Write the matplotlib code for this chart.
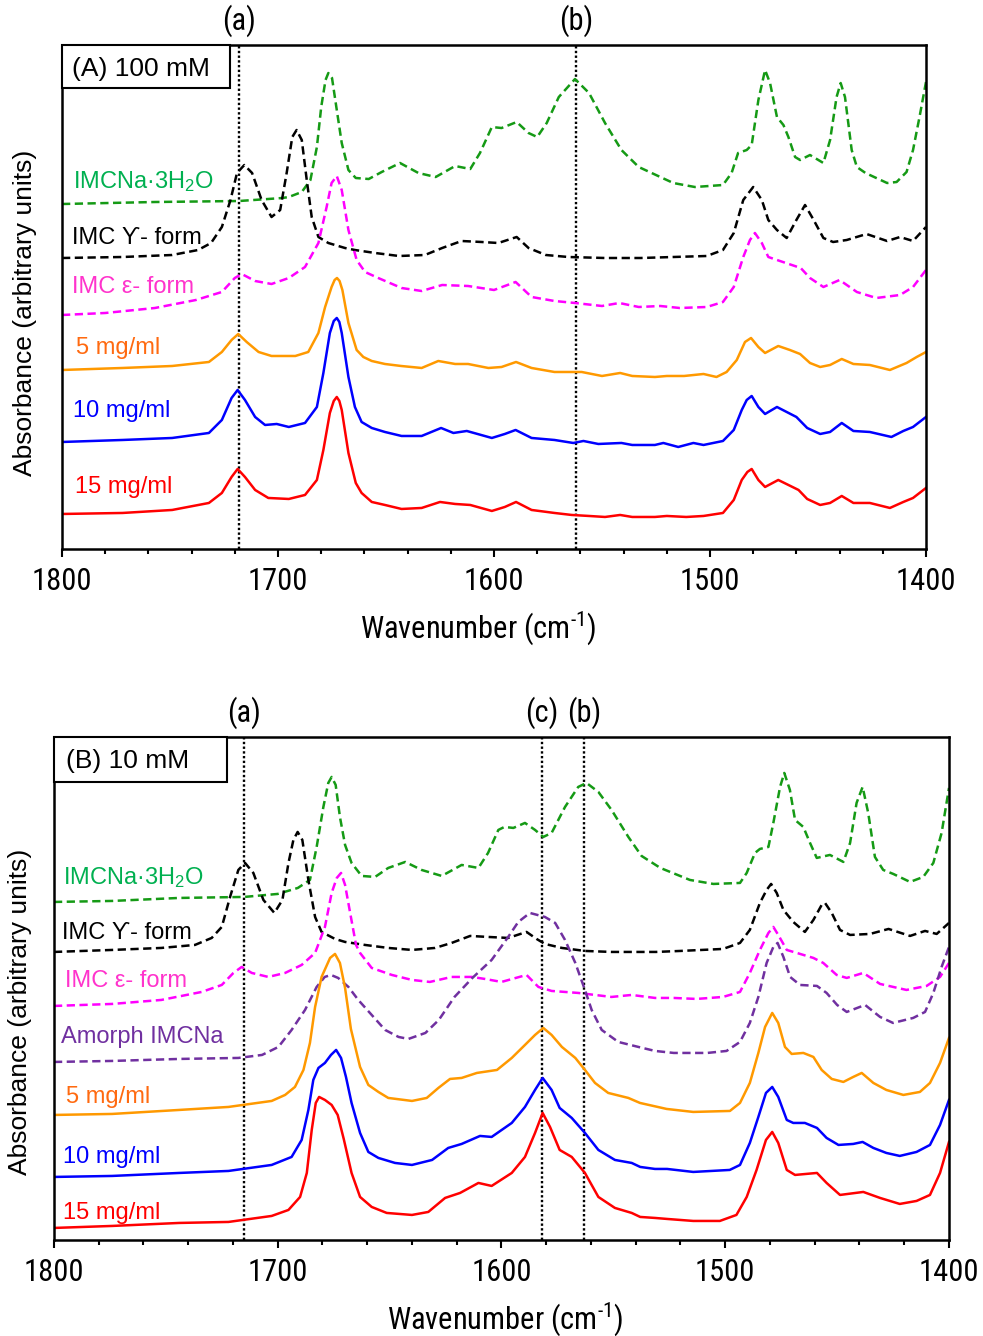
import matplotlib
matplotlib.use("Agg")
import matplotlib.pyplot as plt
from matplotlib import font_manager
from matplotlib.patches import Rectangle

# --- fonts -------------------------------------------------------------
# the axis numbers and wavenumber label use a narrow face in the original
installed = {f.name for f in font_manager.fontManager.ttflist}
NARROW_CHOICES = ["Liberation Sans Narrow", "Arial Narrow", "Roboto Condensed",
                  "Open Sans Condensed", "DejaVu Sans Condensed"]
NARROW = next((n for n in NARROW_CHOICES if n in installed), "Liberation Sans")
NARROW_SIZE = 22 if NARROW != "Liberation Sans" else 18.5
REGULAR = ["Liberation Sans", "DejaVu Sans"]

plt.rcParams["font.family"] = REGULAR
plt.rcParams["mathtext.fontset"] = "custom"
plt.rcParams["mathtext.rm"] = "Liberation Sans"
plt.rcParams["mathtext.default"] = "regular"

# --- data: (wavenumber cm-1, absorbance a.u., offset spectra) ------------
# (A) 100 mM
A_HYDRATE = [(1800, 3.45), (1757, 3.47), (1718, 3.48), (1698, 3.51), (1695, 3.52), (1689, 3.57),
             (1685, 3.69), (1682, 4.02), (1680, 4.42), (1678, 4.69), (1676.7, 4.76), (1675, 4.71),
             (1673, 4.42), (1670.5, 4.06), (1667.4, 3.79), (1664, 3.71), (1658, 3.70), (1652, 3.77),
             (1643.5, 3.86), (1635, 3.76), (1627, 3.72), (1618, 3.83), (1611, 3.80), (1606.5, 3.96),
             (1601, 4.22), (1596.5, 4.21), (1589.5, 4.27), (1584, 4.16), (1580, 4.12), (1575.6, 4.26),
             (1570, 4.52), (1562.5, 4.70), (1556, 4.56), (1548.6, 4.26), (1541, 3.99), (1533, 3.82),
             (1525, 3.74), (1517, 3.66), (1507, 3.62), (1494, 3.64), (1490, 3.76), (1487, 3.96),
             (1483, 3.99), (1480.7, 4.04), (1477.6, 4.49), (1474.5, 4.79), (1472.2, 4.66), (1469, 4.32),
             (1466, 4.24), (1463.7, 4.12), (1460.6, 3.92), (1458.3, 3.89), (1453.7, 3.94), (1447.5, 3.86),
             (1444.4, 4.09), (1441.4, 4.52), (1439.5, 4.66), (1437.5, 4.52), (1434.4, 3.99), (1432, 3.82),
             (1428, 3.76), (1418, 3.66), (1413.6, 3.67), (1409, 3.77), (1406, 3.99), (1403, 4.32),
             (1400, 4.67)]
A_GAMMA = [(1800, 2.91), (1772, 2.92), (1749, 2.94), (1737, 2.99), (1731, 3.06), (1726, 3.22),
           (1722, 3.49), (1719, 3.76), (1715.6, 3.84), (1712, 3.76), (1707.6, 3.49), (1703, 3.32),
           (1699, 3.39), (1696, 3.76), (1693.4, 4.12), (1691.4, 4.19), (1689, 4.09), (1686.7, 3.69),
           (1684.4, 3.32), (1681.3, 3.12), (1676.7, 3.06), (1669, 3.01), (1664.4, 2.99), (1655, 2.96),
           (1644, 2.93), (1632, 2.94), (1624, 3.01), (1615, 3.08), (1605.7, 3.07), (1598, 3.06),
           (1589.5, 3.12), (1584, 3.01), (1576, 2.94), (1565.6, 2.92), (1548.6, 2.91), (1532, 2.91),
           (1517, 2.92), (1501.5, 2.93), (1494, 2.99), (1489, 3.16), (1484.6, 3.49), (1480, 3.62),
           (1476, 3.49), (1473, 3.29), (1469, 3.19), (1464.5, 3.11), (1460, 3.29), (1456, 3.44),
           (1452, 3.29), (1447.5, 3.11), (1443, 3.07), (1436.7, 3.09), (1427.5, 3.15), (1418, 3.08),
           (1412, 3.12), (1406, 3.08), (1400, 3.22)]
A_EPSILON = [(1800, 2.34), (1780, 2.36), (1757, 2.41), (1738, 2.49), (1726, 2.57), (1720, 2.71),
             (1716.8, 2.75), (1710.6, 2.68), (1703, 2.65), (1695, 2.71), (1687.5, 2.82), (1681.3, 3.06),
             (1677.5, 3.42), (1675.2, 3.66), (1672.8, 3.73), (1670.5, 3.59), (1667.4, 3.19),
             (1663.6, 2.89), (1659.7, 2.77), (1653.6, 2.71), (1642.8, 2.61), (1633.5, 2.58), (1624, 2.64),
             (1612, 2.63), (1600, 2.59), (1590, 2.67), (1582.6, 2.52), (1572, 2.48), (1562.5, 2.46),
             (1550, 2.43), (1542, 2.46), (1533, 2.42), (1523, 2.43), (1514, 2.41), (1501.5, 2.42),
             (1494, 2.47), (1489, 2.62), (1484.6, 2.92), (1481.5, 3.09), (1479.2, 3.16), (1476, 3.06),
             (1473, 2.92), (1467.6, 2.88), (1458, 2.81), (1453.7, 2.71), (1447.5, 2.62), (1440, 2.69),
             (1432, 2.57), (1423, 2.51), (1412, 2.54), (1406, 2.62), (1400, 2.79)]
A_5MG = [(1800, 1.79), (1772, 1.81), (1749, 1.83), (1732, 1.87), (1726, 1.97), (1721.5, 2.09),
         (1718.4, 2.15), (1714.5, 2.07), (1709, 1.97), (1703, 1.93), (1692, 1.93), (1686, 1.97),
         (1681.3, 2.16), (1678.2, 2.42), (1675.2, 2.62), (1673.8, 2.69), (1672.7, 2.71), (1671.5, 2.68),
         (1670.2, 2.59), (1667.4, 2.26),
         (1663.6, 1.99), (1660.5, 1.92), (1656.6, 1.88), (1650.5, 1.85), (1643, 1.83), (1633.5, 1.81),
         (1625.8, 1.88), (1618, 1.85), (1612, 1.85), (1602.6, 1.81), (1596.5, 1.82), (1589.8, 1.87),
         (1582.6, 1.81), (1572, 1.77), (1559.4, 1.77), (1550, 1.73), (1541.6, 1.76), (1536, 1.73),
         (1525.5, 1.72), (1520, 1.73), (1512, 1.73), (1503, 1.75), (1497, 1.72), (1492.3, 1.77),
         (1487.6, 1.89), (1483.8, 2.07), (1481, 2.11), (1477.6, 2.02), (1474.5, 1.96), (1468.4, 2.03),
         (1463, 1.99), (1458.3, 1.95), (1453.7, 1.86), (1449, 1.82), (1444.4, 1.84), (1439, 1.90),
         (1433.6, 1.85), (1426, 1.84), (1416.7, 1.79), (1409, 1.86), (1404.3, 1.92), (1400, 1.97)]
A_10MG = [(1800, 1.07), (1772, 1.09), (1749, 1.11), (1732, 1.16), (1726, 1.29), (1721.5, 1.51),
          (1718.7, 1.59), (1715.3, 1.49), (1710.6, 1.32), (1706, 1.24), (1700.6, 1.25), (1695, 1.22),
          (1687.5, 1.26), (1682, 1.42), (1679, 1.76), (1676, 2.16), (1674.2, 2.28), (1672.8, 2.31),
          (1671.6, 2.27), (1670.5, 2.16),
          (1667.4, 1.72), (1664.4, 1.42), (1661.3, 1.27), (1656.6, 1.21), (1650.5, 1.17), (1642.8, 1.13),
          (1633.5, 1.13), (1624.5, 1.21), (1618.8, 1.16), (1612.6, 1.18), (1601, 1.11), (1595, 1.15),
          (1590, 1.19), (1582.6, 1.11), (1572, 1.09), (1563.3, 1.06), (1558.6, 1.08), (1551.7, 1.05),
          (1541, 1.06), (1536, 1.04), (1525.5, 1.04), (1521.6, 1.06), (1514.7, 1.02), (1507.7, 1.06),
          (1503, 1.04), (1494, 1.08), (1489, 1.19), (1485.3, 1.39), (1483, 1.49), (1480.7, 1.53),
          (1477.6, 1.42), (1474.5, 1.35), (1469, 1.42), (1464.5, 1.37), (1460, 1.32), (1455, 1.21),
          (1449, 1.15), (1444.4, 1.17), (1439, 1.26), (1433.6, 1.18), (1426, 1.17), (1416, 1.12),
          (1410.5, 1.18), (1406, 1.22), (1400, 1.32)]
A_15MG = [(1800, 0.35), (1772, 0.36), (1749, 0.39), (1732, 0.46), (1726, 0.56), (1721.5, 0.72),
          (1718.7, 0.80), (1715.3, 0.72), (1710.6, 0.59), (1704.5, 0.51), (1695, 0.50), (1687.5, 0.54),
          (1682, 0.69), (1679, 0.99), (1676, 1.36), (1674.2, 1.48), (1672.8, 1.52), (1671.6, 1.48),
          (1670.5, 1.39), (1667.4, 0.96),
          (1664, 0.66), (1661.3, 0.56), (1656.6, 0.47), (1650.5, 0.44), (1642.8, 0.40), (1633.5, 0.41),
          (1625, 0.47), (1618, 0.45), (1611, 0.44), (1601, 0.38), (1595, 0.42), (1589.8, 0.47),
          (1582.6, 0.39), (1572, 0.36), (1564, 0.34), (1556, 0.33), (1548.6, 0.32), (1541.6, 0.34),
          (1536, 0.32), (1525.5, 0.32), (1520, 0.33), (1511, 0.32), (1503, 0.33), (1494, 0.36),
          (1489, 0.49), (1485.3, 0.69), (1482.7, 0.77), (1480.7, 0.80), (1477.6, 0.69), (1474.5, 0.62),
          (1468.4, 0.69), (1463.7, 0.64), (1459, 0.59), (1455, 0.50), (1449, 0.44), (1444.4, 0.46),
          (1439, 0.53), (1433.6, 0.46), (1426, 0.46), (1416.7, 0.41), (1410.5, 0.47), (1406, 0.51),
          (1400, 0.61)]

# (B) 10 mM
B_HYDRATE = [(1800, 3.38), (1774, 3.39), (1744, 3.42), (1715, 3.43), (1700, 3.46), (1691, 3.52),
             (1685.6, 3.60), (1682.6, 3.93), (1679.6, 4.33), (1677.4, 4.57), (1675.9, 4.63),
             (1674.1, 4.55), (1672.2, 4.23), (1669.9, 3.95), (1667, 3.77), (1662.5, 3.64), (1656.5, 3.63),
             (1650.6, 3.72), (1643, 3.78), (1635.7, 3.70), (1626.7, 3.64), (1617.8, 3.75), (1610.3, 3.72),
             (1606, 3.87), (1601.4, 4.10), (1598.7, 4.13), (1594.7, 4.12), (1589.5, 4.17), (1585, 4.10),
             (1581.3, 4.03), (1577.6, 4.07), (1571.6, 4.33), (1565.7, 4.53), (1562, 4.57), (1556.7, 4.48),
             (1550.8, 4.30), (1543.3, 4.03), (1537.4, 3.84), (1529, 3.72), (1515.8, 3.60), (1505.3, 3.56),
             (1493.4, 3.57), (1490.4, 3.67), (1486.7, 3.87), (1484.5, 3.91), (1480.7, 3.93),
             (1478.5, 4.17), (1475.5, 4.53), (1473.6, 4.67), (1471.1, 4.50), (1468.8, 4.20),
             (1465.1, 4.13), (1462.1, 3.97), (1459.1, 3.82), (1453.2, 3.85), (1447.2, 3.78),
             (1444.2, 3.97), (1441.3, 4.37), (1438.6, 4.53), (1436.1, 4.27), (1433.1, 3.83),
             (1429.4, 3.70), (1424.9, 3.66), (1417.4, 3.58), (1411.5, 3.63), (1407, 3.77), (1403.3, 4.07),
             (1400, 4.52)]
B_GAMMA = [(1800, 2.88), (1774, 2.90), (1752, 2.92), (1737, 2.95), (1729.5, 3.02), (1725, 3.13),
           (1721.3, 3.43), (1717.6, 3.70), (1714.6, 3.77), (1710.9, 3.67), (1706.4, 3.40), (1701.5, 3.27),
           (1697.9, 3.40), (1695.2, 3.77), (1693, 4.00), (1691.1, 4.08), (1689, 4.00), (1686.3, 3.60),
           (1683.3, 3.23), (1680.4, 3.08), (1674.4, 3.01), (1669.9, 2.98), (1661, 2.95), (1650.6, 2.92),
           (1640, 2.90), (1629.7, 2.92), (1622.3, 2.97), (1614, 3.04), (1606, 3.03), (1597, 3.02),
           (1588.8, 3.08), (1584.3, 3.01), (1580.6, 2.96), (1573, 2.92), (1562.7, 2.89), (1550.8, 2.88),
           (1531, 2.88), (1520, 2.89), (1501, 2.91), (1493.4, 2.97), (1489, 3.10), (1484.5, 3.37),
           (1481.5, 3.50), (1479.5, 3.56), (1477, 3.47), (1474, 3.30), (1469.6, 3.18), (1464.4, 3.08),
           (1460.6, 3.20), (1456.9, 3.35), (1455.4, 3.37), (1452.4, 3.27), (1448.7, 3.10), (1444.2, 3.05),
           (1435.3, 3.06), (1427, 3.11), (1417.4, 3.04), (1410.7, 3.09), (1405.5, 3.06), (1400, 3.17)]
B_EPSILON = [(1800, 2.34), (1774, 2.36), (1752, 2.40), (1734, 2.48), (1725, 2.55), (1719.8, 2.67),
             (1716.1, 2.73), (1711.6, 2.67), (1704.2, 2.63), (1696.7, 2.67), (1689.3, 2.75),
             (1683.3, 2.87), (1678.9, 3.13), (1675.9, 3.47), (1673.6, 3.62), (1671.7, 3.67),
             (1669.9, 3.55), (1667.3, 3.23), (1665, 2.95), (1663.2, 2.87), (1658, 2.72), (1649, 2.65),
             (1640, 2.60), (1632, 2.58), (1622.3, 2.63), (1613.3, 2.63), (1607.4, 2.61), (1600, 2.58),
             (1588.8, 2.65), (1583.5, 2.53), (1577.6, 2.49), (1565.7, 2.47), (1550.8, 2.43),
             (1541.8, 2.45), (1531.4, 2.42), (1523, 2.42), (1512.8, 2.41), (1501, 2.43), (1493.4, 2.48),
             (1489, 2.67), (1484.5, 2.90), (1480.7, 3.07), (1478.5, 3.13), (1476.3, 3.05), (1472.5, 2.90),
             (1468, 2.87), (1460.6, 2.82), (1456.2, 2.77), (1450.2, 2.65), (1445.7, 2.62), (1438.3, 2.67),
             (1430.8, 2.56), (1419, 2.50), (1410, 2.54), (1404, 2.63), (1400, 2.77)]
B_AMORPH = [(1800, 1.78), (1774, 1.79), (1744, 1.81), (1717.6, 1.82), (1707, 1.85), (1699.7, 1.93),
            (1693.8, 2.10), (1687.8, 2.30), (1682.6, 2.53), (1679, 2.63), (1676.2, 2.65), (1673, 2.62),
            (1668.4, 2.53), (1664, 2.40), (1658, 2.25), (1652, 2.10), (1646, 2.03), (1641.6, 2.01),
            (1634, 2.07), (1628, 2.20), (1621, 2.43), (1613, 2.62), (1604.4, 2.80), (1597, 3.03),
            (1592.5, 3.18), (1587.3, 3.27), (1580.6, 3.23), (1576, 3.17), (1571.6, 3.00), (1567, 2.77),
            (1562.7, 2.50), (1559.7, 2.30), (1555.2, 2.10), (1547.8, 1.98), (1538.8, 1.93),
            (1531.4, 1.89), (1523, 1.87), (1508, 1.87), (1499.4, 1.89), (1493.4, 1.98), (1489, 2.17),
            (1485.2, 2.43), (1481.5, 2.77), (1478.5, 2.93), (1476.6, 2.97), (1474, 2.83), (1471, 2.63),
            (1466.6, 2.55), (1459, 2.54), (1454.7, 2.47), (1450, 2.35), (1445.7, 2.28), (1437.5, 2.35),
            (1430.8, 2.23), (1425, 2.17), (1416, 2.22), (1410.7, 2.28), (1407, 2.47), (1403.3, 2.73),
            (1400, 2.93)]
B_5MG = [(1800, 1.25), (1774, 1.26), (1744, 1.30), (1722, 1.33), (1702.7, 1.39), (1696.7, 1.45),
         (1692.3, 1.53), (1688.5, 1.70), (1685.6, 1.97), (1683.3, 2.33), (1680.4, 2.63), (1676.6, 2.82),
         (1674.4, 2.86), (1672.2, 2.77), (1669.9, 2.52), (1667.3, 2.11), (1663.2, 1.73), (1659.5, 1.55),
         (1655, 1.48), (1650.6, 1.42), (1640, 1.39), (1633.4, 1.42), (1628.2, 1.52), (1623, 1.61),
         (1617.8, 1.62), (1611, 1.67), (1602, 1.70), (1595.4, 1.82), (1589.5, 1.95), (1585, 2.05),
         (1581.3, 2.12), (1577.6, 2.05), (1573, 1.93), (1567, 1.82), (1562.7, 1.70), (1558.2, 1.57),
         (1552.3, 1.47), (1543.3, 1.42), (1538.1, 1.37), (1526.2, 1.31), (1514.3, 1.28), (1497.9, 1.29),
         (1493.4, 1.37), (1489, 1.57), (1485.2, 1.87), (1482.2, 2.13), (1479, 2.27), (1476.3, 2.17),
         (1473.3, 1.93), (1470.3, 1.86), (1465.1, 1.87), (1460.6, 1.83), (1456.9, 1.70), (1452.4, 1.61),
         (1447.2, 1.58), (1442.8, 1.63), (1439, 1.67), (1433.8, 1.57), (1428, 1.50), (1420.4, 1.45),
         (1413, 1.48), (1408.5, 1.57), (1404, 1.77), (1400, 2.02)]
B_10MG = [(1800, 0.63), (1774, 0.64), (1744, 0.67), (1722, 0.69), (1702.7, 0.75), (1693.8, 0.83),
          (1689.3, 1.00), (1686.3, 1.30), (1684.1, 1.60), (1681.8, 1.72), (1678.9, 1.77), (1676.2, 1.85),
          (1673.9, 1.90), (1671.7, 1.82), (1669.5, 1.63), (1667, 1.37), (1663.2, 1.07), (1659.5, 0.88),
          (1655, 0.82), (1647.6, 0.77), (1640, 0.75), (1631, 0.80), (1623.8, 0.92), (1617.8, 0.96),
          (1609.6, 1.04), (1604.4, 1.03), (1595.4, 1.17), (1589.5, 1.33), (1585, 1.50), (1581.6, 1.62),
          (1577.6, 1.50), (1574, 1.32), (1568.6, 1.22), (1562.7, 1.07), (1556.7, 0.90), (1549.3, 0.80),
          (1541.8, 0.77), (1538, 0.73), (1531.4, 0.71), (1526, 0.71), (1514.3, 0.68), (1498, 0.70),
          (1493.4, 0.75), (1489, 0.97), (1485.2, 1.23), (1481.8, 1.47), (1479, 1.53), (1476.3, 1.43),
          (1472.5, 1.20), (1469.6, 1.17), (1464.4, 1.17), (1459, 1.12), (1454.7, 1.02), (1449.4, 0.95),
          (1442.8, 0.96), (1438.6, 0.98), (1433.8, 0.92), (1428, 0.87), (1422, 0.84), (1414.5, 0.88),
          (1408.5, 0.95), (1404, 1.15), (1400, 1.40)]
B_15MG = [(1800, 0.12), (1774, 0.14), (1744, 0.17), (1722, 0.18), (1702.7, 0.24), (1695.2, 0.30),
          (1690, 0.43), (1687, 0.67), (1684.8, 1.10), (1683, 1.37), (1681.5, 1.43), (1678.9, 1.40),
          (1675.9, 1.35), (1673.2, 1.25), (1670.5, 1.01), (1667, 0.67), (1663.2, 0.43), (1658, 0.33),
          (1651.3, 0.27), (1640, 0.25), (1632.7, 0.28), (1625.2, 0.42), (1618.5, 0.47), (1610.3, 0.57),
          (1604.4, 0.54), (1595.4, 0.67), (1589.5, 0.83), (1585, 1.07), (1581.6, 1.27), (1578.3, 1.13),
          (1574, 0.90), (1568.6, 0.83), (1562.7, 0.67), (1556.7, 0.43), (1549.3, 0.32), (1541.8, 0.27),
          (1538, 0.23), (1531.4, 0.22), (1526, 0.21), (1514.3, 0.19), (1502.4, 0.19), (1495, 0.25),
          (1490.4, 0.43), (1486, 0.70), (1481.8, 1.00), (1479, 1.08), (1476.3, 0.97), (1472.5, 0.70),
          (1468.8, 0.65), (1459, 0.67), (1454.7, 0.57), (1448.7, 0.45), (1438.3, 0.48), (1430.8, 0.42),
          (1422, 0.36), (1414.5, 0.39), (1408.5, 0.45), (1404, 0.67), (1400, 0.98)]

LABEL_HYDRATE = "IMCNa·3H$_2$O"
LABEL_GAMMA = "IMC ϒ- form"
LABEL_EPSILON = "IMC ε- form"
LABEL_AMORPH = "Amorph IMCNa"
LABEL_5MG = "5 mg/ml"
LABEL_10MG = "10 mg/ml"
LABEL_15MG = "15 mg/ml"

A_MARKERS = [(1718, "(a)"), (1562, "(b)")]
B_MARKERS = [(1715, "(a)"), (1582, "(c)"), (1563, "(b)")]

XTICKS = [1800, 1700, 1600, 1500, 1400]

# style per spectrum: line colour, label colour, dashed
STYLE = {
    "hydrate": ("#159a15", "#00b050", True),
    "gamma": ("#000000", "#000000", True),
    "epsilon": ("#ff00ff", "#ff33cc", True),
    "amorph": ("#7030a0", "#7030a0", True),
    "5mg": ("#ff9900", "#ff6a10", False),
    "10mg": ("#0000ff", "#0000ff", False),
    "15mg": ("#ff0000", "#ff0000", False),
}


def draw_panel(ax, spectra, markers, tag, tag_box, ylim):
    for key, pts, label, label_xy in spectra:
        line_c, text_c, dashed = STYLE[key]
        wn, ab = zip(*pts)
        (ln,) = ax.plot(wn, ab, color=line_c, lw=1.8, solid_joinstyle="round",
                        dash_joinstyle="round")
        if dashed:
            ln.set_dashes((3.3, 1.8))
        ax.text(label_xy[0], label_xy[1], label, transform=ax.transAxes, color=text_c,
                fontsize=17, va="baseline", ha="left")

    for wn, name in markers:
        ax.axvline(wn, color="black", lw=1.7, ls=(0, (1, 1)), zorder=1)
        ax.text(wn, ylim + 0.24, name, ha="center", va="center", fontsize=NARROW_SIZE,
                family=NARROW)

    bw, bh = tag_box
    ax.add_patch(Rectangle((0, 1 - bh), bw, bh, transform=ax.transAxes, fill=True, fc="white",
                           ec="black", lw=1.5, zorder=5, clip_on=False))
    ax.text(tag[1][0], tag[1][1], tag[0], transform=ax.transAxes, fontsize=19,
            va="baseline", ha="left", zorder=6)

    ax.set_xlim(1800, 1400)
    ax.set_ylim(0, ylim)
    ax.set_yticks([])
    ax.set_xticks(XTICKS)
    ax.set_xticks(range(1400, 1801, 20), minor=True)
    ax.tick_params(axis="x", which="major", direction="out", length=6, width=1.5, pad=7,
                   labelsize=NARROW_SIZE)
    ax.tick_params(axis="x", which="minor", direction="out", length=3.5, width=1.5)
    for lab in ax.get_xticklabels():
        lab.set_family(NARROW)
    for sp in ax.spines.values():
        sp.set_linewidth(1.8)


def main():
    fig = plt.figure(figsize=(9.83, 13.36), dpi=100)
    ax_a = fig.add_axes([0.0631, 0.5891, 0.8789, 0.3772])
    ax_b = fig.add_axes([0.0549, 0.0719, 0.9105, 0.3765])

    spectra_a = [
        ("hydrate", A_HYDRATE, LABEL_HYDRATE, (0.0127, 0.716)),
        ("gamma", A_GAMMA, LABEL_GAMMA, (0.0112, 0.605)),
        ("epsilon", A_EPSILON, LABEL_EPSILON, (0.0112, 0.508)),
        ("5mg", A_5MG, LABEL_5MG, (0.0158, 0.387)),
        ("10mg", A_10MG, LABEL_10MG, (0.0127, 0.262)),
        ("15mg", A_15MG, LABEL_15MG, (0.0150, 0.111)),
    ]
    spectra_b = [
        ("hydrate", B_HYDRATE, LABEL_HYDRATE, (0.0104, 0.708)),
        ("gamma", B_GAMMA, LABEL_GAMMA, (0.0086, 0.598)),
        ("epsilon", B_EPSILON, LABEL_EPSILON, (0.0123, 0.503)),
        ("amorph", B_AMORPH, LABEL_AMORPH, (0.0078, 0.392)),
        ("5mg", B_5MG, LABEL_5MG, (0.0131, 0.272)),
        ("10mg", B_10MG, LABEL_10MG, (0.0104, 0.153)),
        ("15mg", B_15MG, LABEL_15MG, (0.0104, 0.042)),
    ]
    draw_panel(ax_a, spectra_a, A_MARKERS, ("(A) 100 mM", (0.0119, 0.9385)), (0.1944, 0.0853), 5.04)
    draw_panel(ax_b, spectra_b, B_MARKERS, ("(B) 10 mM", (0.0131, 0.939)), (0.1933, 0.0895), 5.03)

    # superscript written with a hyphen, as in the original
    for x, y in [(0.4863, 0.5225), (0.5137, 0.0055)]:
        fig.text(x, y, "Wavenumber (cm$^{\u2010 1}$)", ha="center", va="baseline",
                 fontsize=NARROW_SIZE, family=NARROW)
    for x, y in [(0.0254, 0.7657), (0.0203, 0.2425)]:
        fig.text(x, y, "Absorbance (arbitrary units)", rotation=90, ha="center", va="center",
                 fontsize=19)

    fig.savefig("out.png", dpi=100)


if __name__ == "__main__":
    main()
